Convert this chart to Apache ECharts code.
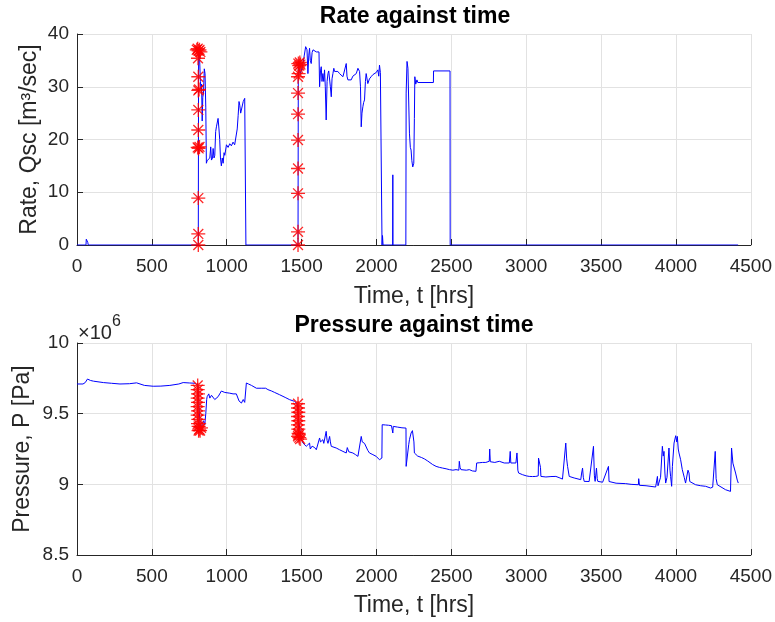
<!DOCTYPE html>
<html><head><meta charset="utf-8">
<script src="https://cdn.jsdelivr.net/npm/echarts@6/dist/echarts.min.js"></script>
<style>html,body{margin:0;padding:0;background:#fff}#c{width:775px;height:622px}</style>
</head><body><div id="c"></div>
<script>
// ---- data ----
const rateTime = [0,60,62,70,72,75,810,812,818,824,828,832,836,840,845,850,855,860,864,869,878,887,893,898,905,909,915,920,926,931,942,948,953,958,964,970,976,982,987,998,1009,1020,1031,1042,1053,1064,1070,1076,1082,1087,1093,1098,1110,1120,1127,1128,
1476,1478,1490,1498,1509,1518,1527,1536,1542,1548,1553,1558,1564,1570,1576,1598,1616,1620,1626,1631,1636,1642,1648,1653,1658,1664,1670,1676,1681,1687,1692,1698,1703,1709,1715,1720,1731,1742,1753,1764,1776,1787,1798,1803,1809,1820,1831,1842,1853,1865,1876,1887,1893,1898,1903,1909,1914,1920,1926,1931,1942,1953,1964,1976,1987,1998,2009,2015,2020,2026,2031,2036,2037,2040,2044,2108,2109,2110,2196,2198,2204,2210,2216,2220,2226,2231,2236,2242,2249,2253,2256,2262,2270,2276,2380,2381,2491,2492,4415];
const rateValue = [0,0,1.1,1.1,0.5,0,0,37,36,31,29.5,30.5,23.5,28,29,33.4,32.5,26,15.5,16,15.8,16.5,18.6,16.1,16.5,18.3,16.5,17,21.5,22.4,24,22,20,16.5,15,16.5,15.5,17.5,17,19,18.5,19.2,18.8,19.5,19,19.3,22,24.5,27.2,26.5,25,25.2,27.2,27.8,27.5,0,
0,34.4,32.5,33,34.4,36,37.6,37,32.5,36,37.3,35,34.4,36.5,37,36.6,36.6,30,33,33.8,31,32.5,31,33.2,30,23.7,31,32.5,33,32.9,30,28.1,31.5,32.5,33.5,32.9,33.2,32.9,32.5,32.5,31.9,32,34.4,32,31.3,31.5,31.3,32,31.9,32.5,33.5,32.9,30,22.4,25,26.2,27,27.5,31,32.5,30.6,31.5,31.9,32.3,32.5,32.7,33.2,32,34.1,32.7,32.5,32.5,0,1.8,0,0,13.3,0,0,28.8,34.8,33.5,33.2,21.2,18.5,18,16,14.8,15.5,24,31.9,30.5,31.3,30.8,30.8,33,33,0,0];

const presTime = [0,40,55,70,90,110,176,230,287,350,398,405,450,509,560,620,680,709,753,790,808,815,820,825,835,845,853,860,866,869,880,887,898,909,920,930,942,953,964,976,987,1000,1020,1042,1064,1075,1082,1090,1098,1110,1120,1127,1131,1145,1165,1198,1210,1230,1242,1260,1275,1287,1300,1320,1353,1390,1420,1453,1470,1480,1490,1500,1509,1520,1531,1542,1553,1558,1564,1570,1576,1587,1598,1609,1620,1626,1631,1642,1648,1653,1664,1670,1676,1687,1692,1698,1709,1731,1753,1776,1787,1798,1805,1809,1815,1820,1842,1860,1876,1898,1905,1909,1920,1931,1942,1953,1965,1976,1987,1998,2009,2020,2030,2036,2038,2060,2080,2100,2105,2109,2112,2140,2170,2197,2198,2203,2209,2215,2220,2231,2240,2247,2250,2253,2264,2275,2287,2300,2309,2320,2331,2342,2353,2375,2398,2420,2442,2465,2487,2510,2531,2550,2553,2558,2564,2576,2600,2620,2640,2664,2669,2690,2709,2730,2753,2756,2760,2790,2820,2853,2887,2893,2897,2931,2938,2942,2944,2949,2976,3000,3020,3042,3064,3080,3082,3091,3095,3098,3131,3165,3198,3209,3225,3242,3264,3270,3276,3287,3320,3364,3370,3376,3381,3387,3420,3449,3455,3460,3469,3474,3478,3510,3549,3553,3558,3600,3664,3700,3749,3751,3756,3800,3864,3876,3880,3887,3897,3909,3915,3920,3926,3931,3940,3953,3960,3964,3971,3976,3987,3998,4005,4009,4015,4020,4031,4042,4055,4064,4075,4080,4087,4092,4098,4131,4165,4198,4231,4245,4258,4262,4268,4276,4287,4331,4364,4369,4371,4380,4387,4398,4409,4416];
const presValue = [9.71,9.71,9.72,9.745,9.735,9.73,9.72,9.715,9.71,9.712,9.718,9.705,9.70,9.694,9.695,9.70,9.71,9.72,9.717,9.715,9.70,9.55,9.45,9.40,9.42,9.45,9.42,9.50,9.60,9.62,9.64,9.61,9.63,9.64,9.60,9.59,9.62,9.64,9.66,9.655,9.65,9.64,9.645,9.64,9.64,9.635,9.59,9.58,9.575,9.60,9.58,9.575,9.717,9.71,9.70,9.68,9.67,9.68,9.67,9.68,9.67,9.674,9.66,9.65,9.634,9.615,9.599,9.587,9.57,9.45,9.38,9.32,9.292,9.28,9.269,9.257,9.292,9.25,9.245,9.27,9.28,9.26,9.245,9.233,9.328,9.30,9.304,9.316,9.29,9.28,9.375,9.31,9.29,9.339,9.30,9.269,9.257,9.257,9.245,9.233,9.24,9.222,9.26,9.257,9.23,9.233,9.222,9.21,9.198,9.339,9.30,9.304,9.29,9.28,9.24,9.222,9.21,9.21,9.20,9.198,9.19,9.174,9.18,9.186,9.422,9.42,9.418,9.415,9.41,9.363,9.41,9.405,9.40,9.398,9.127,9.12,9.139,9.28,9.316,9.363,9.38,9.387,9.30,9.222,9.21,9.20,9.198,9.19,9.186,9.18,9.174,9.165,9.151,9.14,9.127,9.12,9.115,9.11,9.104,9.10,9.104,9.10,9.163,9.12,9.104,9.115,9.10,9.104,9.095,9.092,9.151,9.153,9.155,9.155,9.163,9.25,9.16,9.155,9.163,9.151,9.151,9.233,9.151,9.151,9.222,9.151,9.10,9.08,9.068,9.06,9.056,9.055,9.056,9.06,9.186,9.198,9.12,9.056,9.052,9.055,9.056,9.06,9.045,9.037,9.292,9.18,9.127,9.056,9.045,9.033,9.08,9.115,9.05,9.021,9.02,9.269,9.06,9.021,9.115,9.04,9.021,9.015,9.127,9.02,9.014,9.008,9.005,9.0,8.997,9.04,8.993,8.99,8.981,9.056,8.99,8.985,9.05,9.269,9.20,9.233,9.08,9.009,9.05,9.257,9.10,9.056,8.986,9.127,9.292,9.344,9.30,9.339,9.25,9.222,9.174,9.104,9.05,9.009,9.02,9.10,9.08,9.02,9.009,8.997,8.99,8.986,8.974,8.98,8.974,9.233,9.04,8.997,8.986,8.962,8.95,8.96,9.257,9.15,9.139,9.08,9.03,9.009];

const rateStarTime  = [810,810,810,806,812,818,810,810,810,815,810,808,800,806,812,818,824,1476,1476,1476,1476,1476,1476,1476,1476,1480,1478,1484,1488,1492];
const rateStarValue = [0,2.1,8.9,18.5,18.3,18.6,21.8,25.6,29.3,29.5,31.9,35.4,37,37.2,36.8,37,36.6,0,2.5,9.8,14.5,19.9,24.8,28.8,31.9,32.5,34.4,34.0,34.6,34.2];
const presStarTime  = [806,806,808,806,808,806,808,806,810,808,812,816,822,828,812,1476,1476,1478,1476,1478,1476,1478,1480,1476,1484,1490,1482];
const presStarValue = [9.70,9.67,9.64,9.61,9.58,9.55,9.52,9.49,9.46,9.43,9.41,9.39,9.38,9.40,9.38,9.57,9.54,9.51,9.48,9.45,9.42,9.39,9.36,9.34,9.33,9.32,9.35];

const timeTicks = {min:0, max:4500, interval:500};
const rateTicks = {min:0, max:40, interval:10};
const presTicks = {min:8.5, max:10, interval:0.5};

// ---- chart ----
const zip = (a,b) => a.map((v,i)=>[v,b[i]]);
const FONT = '"Liberation Sans", Arial, Helvetica, sans-serif';
const TXT = '#262626';
const STAR = 'path://M6,0L6,12M0,6L12,6M1.76,1.76L10.24,10.24M1.76,10.24L10.24,1.76';
const plain = v => String(v);

function xAx(idx, gap){
  return {type:'value', gridIndex:idx, min:timeTicks.min, max:timeTicks.max, interval:timeTicks.interval,
    name:'Time, t [hrs]', nameLocation:'middle', nameGap:gap,
    nameTextStyle:{fontFamily:FONT, fontSize:23, color:TXT},
    axisLine:{show:true, onZero:false, lineStyle:{color:TXT, width:1}},
    axisTick:{show:true, inside:true, length:6, lineStyle:{color:TXT}},
    axisLabel:{fontFamily:FONT, fontSize:19, color:TXT, margin:12, formatter:plain},
    splitLine:{show:true, lineStyle:{color:'#e2e2e2', width:1}}};
}
function yAx(idx, t, name, gap){
  return {type:'value', gridIndex:idx, min:t.min, max:t.max, interval:t.interval,
    name:name, nameLocation:'middle', nameGap:gap, nameMoveOverlap:false,
    nameTextStyle:{fontFamily:FONT, fontSize:23, color:TXT},
    axisLine:{show:true, onZero:false, lineStyle:{color:TXT, width:1}},
    axisTick:{show:true, inside:true, length:6, lineStyle:{color:TXT}},
    axisLabel:{fontFamily:FONT, fontSize:19, color:TXT, margin:8, formatter:plain},
    splitLine:{show:true, lineStyle:{color:'#e2e2e2', width:1}}};
}
function stars(idx, t, v){
  return {type:'scatter', xAxisIndex:idx, yAxisIndex:idx, data:zip(t,v), symbol:STAR, symbolSize:14, z:5,
    itemStyle:{color:'rgba(0,0,0,0)', borderColor:'#ff0000', borderWidth:1.3, opacity:0.85}, silent:true};
}
function line(idx, t, v){
  return {type:'line', xAxisIndex:idx, yAxisIndex:idx, data:zip(t,v), showSymbol:false, z:3,
    lineStyle:{color:'#0000ff', width:1}, itemStyle:{color:'#0000ff'}, silent:true};
}

const chart = echarts.init(document.getElementById('c'), null, {renderer:'canvas'});
chart.setOption({
  animation:false,
  backgroundColor:'#fff',
  title:[
    {text:'Rate against time', left:410, top:0, textAlign:'center', textStyle:{fontFamily:FONT, fontSize:23, fontWeight:'bold', color:'#000'}},
    {text:'Pressure against time', left:409, top:309, textAlign:'center', textStyle:{fontFamily:FONT, fontSize:23, fontWeight:'bold', color:'#000'}}
  ],
  graphic:[
    {type:'text', left:78, top:323, style:{text:'×10', fontFamily:FONT, fontSize:20, fill:TXT}},
    {type:'text', left:112, top:314, style:{text:'6', fontFamily:FONT, fontSize:16, fill:TXT}}
  ],
  grid:[
    {left:77, top:34, width:675, height:211},
    {left:77, top:343, width:675, height:212}
  ],
  xAxis:[xAx(0, 40), xAx(1, 39)],
  yAxis:[yAx(0, rateTicks, 'Rate, Qsc [m³/sec]', 36), yAx(1, presTicks, 'Pressure, P [Pa]', 43)],
  series:[
    line(0, rateTime, rateValue),
    stars(0, rateStarTime, rateStarValue),
    line(1, presTime, presValue),
    stars(1, presStarTime, presStarValue)
  ]
});
</script></body></html>
